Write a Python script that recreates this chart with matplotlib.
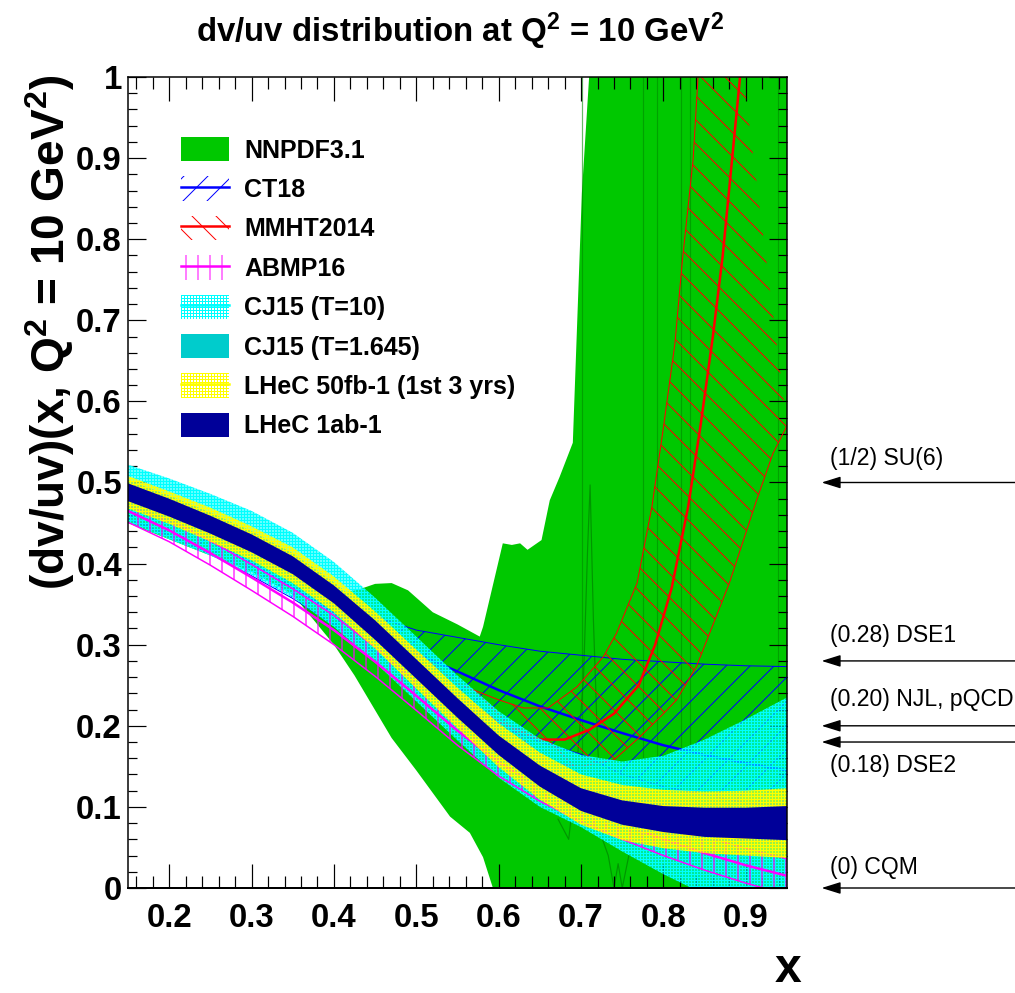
import numpy as np
import matplotlib
matplotlib.use("Agg")
import matplotlib.pyplot as plt
from matplotlib.patches import Patch
from matplotlib.lines import Line2D
from matplotlib.ticker import MultipleLocator, FuncFormatter

# ---------------------------------------------------------------- data
x_grid = [0.15, 0.20, 0.25, 0.30, 0.35, 0.40, 0.45, 0.50, 0.55,
          0.60, 0.65, 0.70, 0.75, 0.80, 0.85, 0.90, 0.95]

# LHeC projections
lhec_mid = [0.488, 0.469, 0.448, 0.425, 0.398, 0.362, 0.318, 0.270, 0.222,
            0.176, 0.138, 0.109, 0.093, 0.085, 0.081, 0.080, 0.080]
lhec_1ab_lo = [0.477, 0.458, 0.437, 0.414, 0.387, 0.351, 0.306, 0.258, 0.210,
               0.164, 0.125, 0.095, 0.078, 0.069, 0.063, 0.061, 0.059]
lhec_1ab_hi = [0.499, 0.480, 0.459, 0.436, 0.409, 0.373, 0.330, 0.282, 0.234,
               0.188, 0.151, 0.123, 0.108, 0.101, 0.099, 0.099, 0.101]
lhec_50_lo = [0.468, 0.449, 0.427, 0.404, 0.376, 0.340, 0.295, 0.246, 0.197,
              0.149, 0.109, 0.078, 0.059, 0.049, 0.043, 0.040, 0.037]
lhec_50_hi = [0.508, 0.489, 0.469, 0.446, 0.420, 0.384, 0.341, 0.294, 0.247,
              0.203, 0.167, 0.140, 0.127, 0.121, 0.119, 0.120, 0.123]

# CJ15
cj15_t10_lo = [0.451, 0.430, 0.410, 0.386, 0.358, 0.322, 0.278, 0.230, 0.182,
               0.136, 0.100, 0.075, 0.045, 0.017, -0.008, -0.028, -0.048]
cj15_t10_hi = [0.522, 0.505, 0.486, 0.465, 0.438, 0.402, 0.358, 0.310, 0.262,
               0.218, 0.184, 0.164, 0.156, 0.163, 0.183, 0.208, 0.235]
cj15_t1645_lo = [0.473, 0.454, 0.433, 0.410, 0.383, 0.347, 0.302, 0.254, 0.206,
                 0.160, 0.121, 0.091, 0.074, 0.065, 0.059, 0.057, 0.055]
cj15_t1645_hi = [0.503, 0.484, 0.463, 0.440, 0.413, 0.377, 0.334, 0.286, 0.238,
                 0.192, 0.155, 0.127, 0.112, 0.105, 0.103, 0.103, 0.105]

# CT18
ct18_mid = [0.472, 0.452, 0.428, 0.400, 0.370, 0.340, 0.312, 0.289, 0.267,
            0.244, 0.224, 0.207, 0.191, 0.176, 0.164, 0.154, 0.145]
ct18_lo = [0.455, 0.435, 0.412, 0.385, 0.357, 0.325, 0.290, 0.255, 0.225,
           0.200, 0.180, 0.165, 0.140, 0.125, 0.115, 0.105, 0.100]
ct18_hi = [0.478, 0.460, 0.438, 0.412, 0.384, 0.356, 0.335, 0.318, 0.309,
           0.300, 0.292, 0.287, 0.282, 0.279, 0.276, 0.274, 0.273]

# ABMP16
abmp_lo = [0.451, 0.427, 0.398, 0.367, 0.335, 0.300, 0.261, 0.219, 0.176,
           0.138, 0.107, 0.082, 0.060, 0.040, 0.022, 0.006, -0.008]
abmp_mid = [0.465, 0.441, 0.413, 0.383, 0.352, 0.318, 0.279, 0.237, 0.194,
            0.155, 0.125, 0.100, 0.079, 0.060, 0.043, 0.028, 0.015]
abmp_hi = [0.478, 0.455, 0.428, 0.399, 0.369, 0.336, 0.297, 0.255, 0.211,
           0.172, 0.142, 0.117, 0.097, 0.079, 0.063, 0.049, 0.036]

# MMHT2014
mmht_x = [0.15, 0.20, 0.25, 0.30, 0.35, 0.40, 0.45, 0.50, 0.55, 0.60, 0.65,
          0.68, 0.71, 0.74, 0.77, 0.79, 0.81, 0.83, 0.845, 0.86, 0.872,
          0.893, 0.95]
mmht_mid = [0.487, 0.468, 0.447, 0.424, 0.397, 0.362, 0.320, 0.276, 0.236,
            0.205, 0.183, 0.183, 0.195, 0.215, 0.250, 0.300, 0.370, 0.470,
            0.570, 0.680, 0.780, 1.000, 1.500]
mmht_hi_x = [0.15, 0.20, 0.25, 0.30, 0.35, 0.40, 0.45, 0.50, 0.55, 0.60,
             0.63, 0.66, 0.695, 0.727, 0.743, 0.768, 0.786, 0.80, 0.814,
             0.823, 0.836, 0.842, 0.86]
mmht_hi = [0.500, 0.481, 0.460, 0.437, 0.410, 0.376, 0.335, 0.292, 0.252,
           0.232, 0.222, 0.222, 0.248, 0.285, 0.314, 0.376, 0.470, 0.568,
           0.672, 0.774, 0.898, 1.000, 1.300]
mmht_lo_x = [0.15, 0.20, 0.25, 0.30, 0.35, 0.40, 0.45, 0.50, 0.55, 0.60,
             0.65, 0.70, 0.74, 0.77, 0.80, 0.816, 0.84, 0.856, 0.88, 0.913,
             0.933, 0.95]
mmht_lo = [0.474, 0.455, 0.434, 0.411, 0.384, 0.348, 0.305, 0.260, 0.215,
           0.175, 0.155, 0.150, 0.158, 0.185, 0.215, 0.232, 0.273, 0.314,
           0.376, 0.478, 0.536, 0.570]

# NNPDF3.1
nnpdf_hi_x = [0.15, 0.25, 0.35, 0.40, 0.43, 0.45, 0.47, 0.49, 0.52, 0.55,
              0.577, 0.581, 0.605, 0.616, 0.626, 0.635, 0.652, 0.662, 0.674,
              0.69, 0.701, 0.711, 0.95]
nnpdf_hi = [0.500, 0.450, 0.400, 0.362, 0.368, 0.375, 0.376, 0.367, 0.340,
            0.325, 0.310, 0.322, 0.425, 0.423, 0.425, 0.417, 0.429, 0.478,
            0.507, 0.549, 0.857, 1.020, 1.200]
nnpdf_lo_x = [0.15, 0.25, 0.30, 0.35, 0.40, 0.425, 0.47, 0.50, 0.541, 0.565,
              0.581, 0.593, 0.60, 0.95]
nnpdf_lo = [0.450, 0.410, 0.390, 0.362, 0.300, 0.262, 0.185, 0.145, 0.088,
            0.068, 0.038, 0.000, -0.050, -0.050]
# fluctuating replica
nnpdf_rep_x = [0.672, 0.685, 0.695, 0.703, 0.708, 0.711, 0.715, 0.72, 0.726,
               0.733, 0.74, 0.745, 0.75, 0.758]
nnpdf_rep_y = [0.085, 0.060, 0.150, 0.260, 0.420, 0.497, 0.330, 0.180, 0.060,
               0.040, 0.000, 0.030, 0.000, 0.040]
nnpdf_spike_x = [0.701, 0.775, 0.792, 0.821, 0.832, 0.939]

# model predictions at x -> 1
model_vals = [0.5, 0.28, 0.20, 0.18, 0.0]
model_names = ["(1/2) SU(6)", "(0.28) DSE1", "(0.20) NJL, pQCD",
               "(0.18) DSE2", "(0) CQM"]

# ---------------------------------------------------------------- style
plt.rcParams['font.family'] = ['Liberation Sans', 'DejaVu Sans']
plt.rcParams['mathtext.fontset'] = 'custom'
plt.rcParams['mathtext.rm'] = 'Liberation Sans:bold'
plt.rcParams['mathtext.bf'] = 'Liberation Sans:bold'
plt.rcParams['mathtext.it'] = 'Liberation Sans:bold'
plt.rcParams['hatch.linewidth'] = 1.0

C_GREEN = '#00c800'
C_DKGREEN = '#008a00'
C_BLUE = '#0000ff'
C_RED = '#ff0000'
C_MAG = '#ff00ff'
C_CYAN = '#00ffff'
C_TEAL = '#00cccc'
C_YEL = '#ffff00'
C_NAVY = '#000099'

DPI = 72
W, H = 1015, 993
fig = plt.figure(figsize=(W / DPI, H / DPI), dpi=DPI)
ax = fig.add_axes([128 / W, 1 - 888 / H, 659 / W, 811 / H])
ax.set_xlim(0.15, 0.95)
ax.set_ylim(0.0, 1.0)


def set_hlw(artist, lw):
    if hasattr(artist, 'set_hatch_linewidth'):
        artist.set_hatch_linewidth(lw)


def hatch_band(x, lo, hi, color, hatch, hlw, z):
    with plt.rc_context({'hatch.linewidth': hlw}):
        pc = ax.fill_between(x, lo, hi, facecolor='none', edgecolor=color,
                             hatch=hatch, linewidth=0, zorder=z)
    set_hlw(pc, hlw)
    return pc


def hatch_poly(xh, yh, xl, yl, color, hatch, hlw, z):
    px = np.concatenate([xh, xl[::-1]])
    py = np.concatenate([yh, yl[::-1]])
    with plt.rc_context({'hatch.linewidth': hlw}):
        polys = ax.fill(px, py, facecolor='none', edgecolor=color,
                        hatch=hatch, linewidth=0, zorder=z)
    for p in polys:
        set_hlw(p, hlw)


# NNPDF3.1 band
px = np.concatenate([nnpdf_hi_x, nnpdf_lo_x[::-1]])
py = np.concatenate([nnpdf_hi, nnpdf_lo[::-1]])
ax.fill(px, py, facecolor=C_GREEN, edgecolor='none', zorder=1)
ax.plot(nnpdf_rep_x, nnpdf_rep_y, color=C_DKGREEN, lw=1.2, alpha=0.8, zorder=1.2)
for xs in nnpdf_spike_x:
    ax.plot([xs, xs], [0.12, 1.0], color=C_DKGREEN, lw=1.2, alpha=0.6, zorder=1.2)

# CT18
hatch_band(x_grid, ct18_lo, ct18_hi, C_BLUE, '/', 1.0, 2)
ax.plot(x_grid, ct18_hi, color=C_BLUE, lw=1.0, zorder=2.1)
ax.plot(x_grid, ct18_lo, color=C_BLUE, lw=1.0, zorder=2.1)
ax.plot(x_grid, ct18_mid, color=C_BLUE, lw=2.5, zorder=2.1)

# MMHT2014
hatch_poly(mmht_hi_x, mmht_hi, mmht_lo_x, mmht_lo, C_RED, '\\', 1.0, 3)
ax.plot(mmht_hi_x, mmht_hi, color=C_RED, lw=1.0, zorder=3.1)
ax.plot(mmht_lo_x, mmht_lo, color=C_RED, lw=1.0, zorder=3.1)
ax.plot(mmht_x, mmht_mid, color=C_RED, lw=2.5, zorder=3.1)

# CJ15 (T=10) textured band
hatch_band(x_grid, cj15_t10_lo, cj15_t10_hi, C_CYAN, '++++', 1.6, 4)

# ABMP16
hatch_band(x_grid, abmp_lo, abmp_hi, C_MAG, '|', 1.2, 5)
ax.plot(x_grid, abmp_hi, color=C_MAG, lw=1.5, zorder=5.1)
ax.plot(x_grid, abmp_lo, color=C_MAG, lw=1.5, zorder=5.1)
ax.plot(x_grid, abmp_mid, color=C_MAG, lw=2.5, zorder=5.1)

# CJ15 (T=1.645)
ax.fill_between(x_grid, cj15_t1645_lo, cj15_t1645_hi, facecolor=C_TEAL,
                edgecolor='none', zorder=6)

# LHeC 50 fb-1
hatch_band(x_grid, lhec_50_lo, lhec_50_hi, C_YEL, '++++', 1.6, 7)

# LHeC 1 ab-1
ax.fill_between(x_grid, lhec_1ab_lo, lhec_1ab_hi, facecolor=C_NAVY,
                edgecolor='none', zorder=8)

# ---------------------------------------------------------------- axes
for s in ax.spines.values():
    s.set_linewidth(1.5)
    s.set_zorder(20)
ax.spines['bottom'].set_linewidth(2.0)
ax.xaxis.set_major_locator(MultipleLocator(0.1))
ax.xaxis.set_minor_locator(MultipleLocator(0.02))
ax.yaxis.set_major_locator(MultipleLocator(0.1))
ax.yaxis.set_minor_locator(MultipleLocator(0.02))
ax.tick_params(axis='x', which='major', direction='in', length=24, width=1.2,
               top=True, pad=15, labelsize=33, zorder=20)
ax.tick_params(axis='x', which='minor', direction='in', length=12, width=1.2,
               top=True, zorder=20)
ax.tick_params(axis='y', which='major', direction='in', length=18, width=1.2,
               right=True, pad=6, labelsize=33, zorder=20)
ax.tick_params(axis='y', which='minor', direction='in', length=9, width=1.2,
               right=True, zorder=20)


def fmt(v, pos):
    if abs(v) < 1e-9:
        return '0'
    if abs(v - 1) < 1e-9:
        return '1'
    return f'{v:.1f}'


ax.xaxis.set_major_formatter(FuncFormatter(fmt))
ax.yaxis.set_major_formatter(FuncFormatter(fmt))
for lab in ax.get_xticklabels() + ax.get_yticklabels():
    lab.set_fontweight('bold')

fig.text(460 / W, 1 - 31 / H,
         r'dv/uv distribution at Q$^{2}$ = 10 GeV$^{2}$',
         ha='center', va='center', fontsize=33, fontweight='bold')
fig.text(50 / W, 1 - 74 / H,
         r'(dv/uv)(x, Q$^{2}$ = 10 GeV$^{2}$)',
         rotation=90, ha='center', va='top', fontsize=46, fontweight='bold')
fig.text(801 / W, 1 / H, 'x', ha='right', va='bottom',
         fontsize=48, fontweight='bold')

# ---------------------------------------------------------------- legend
handles = [
    Patch(facecolor=C_GREEN, edgecolor='none'),
    (Patch(facecolor='none', edgecolor=C_BLUE, hatch='/', lw=0),
     Line2D([], [], color=C_BLUE, lw=2.5)),
    (Patch(facecolor='none', edgecolor=C_RED, hatch='\\', lw=0),
     Line2D([], [], color=C_RED, lw=2.5)),
    (Patch(facecolor='none', edgecolor=C_MAG, hatch='|', lw=0),
     Line2D([], [], color=C_MAG, lw=2.5)),
    (Patch(facecolor='none', edgecolor=C_CYAN, hatch='++++', lw=0),
     Line2D([], [], color=C_CYAN, lw=2.5)),
    Patch(facecolor=C_TEAL, edgecolor='none'),
    (Patch(facecolor='none', edgecolor=C_YEL, hatch='++++', lw=0),
     Line2D([], [], color=C_YEL, lw=2.5)),
    Patch(facecolor=C_NAVY, edgecolor='none'),
]
labels = ['NNPDF3.1', 'CT18', 'MMHT2014', 'ABMP16', 'CJ15 (T=10)',
          'CJ15 (T=1.645)', 'LHeC 50fb-1 (1st 3 yrs)', 'LHeC 1ab-1']
leg = ax.legend(handles, labels, loc='upper left',
                bbox_to_anchor=(181 / W, 1 - 137 / H),
                bbox_transform=fig.transFigure, frameon=False,
                prop={'weight': 'bold', 'size': 25},
                handlelength=1.92, handleheight=1.12, handletextpad=0.6,
                labelspacing=0.55, borderpad=0, borderaxespad=0)
leg.set_zorder(30)

# ---------------------------------------------------------------- model arrows
text_dy = [18, 19, 20, -30, 14]
for val, name, dy in zip(model_vals, model_names, text_dy):
    ax.annotate('', xy=(0.992, val), xytext=(1.235, val),
                xycoords='data', textcoords='data', annotation_clip=False,
                arrowprops=dict(arrowstyle='-|>,head_length=0.8,head_width=0.25',
                                color='black', lw=1.4, mutation_scale=20,
                                shrinkA=0, shrinkB=0))
    ax.annotate(name, xy=(0.992, val), xytext=(8, dy),
                textcoords='offset points', fontsize=23,
                ha='left', va='baseline', annotation_clip=False)

fig.savefig('out.png', dpi=DPI)
